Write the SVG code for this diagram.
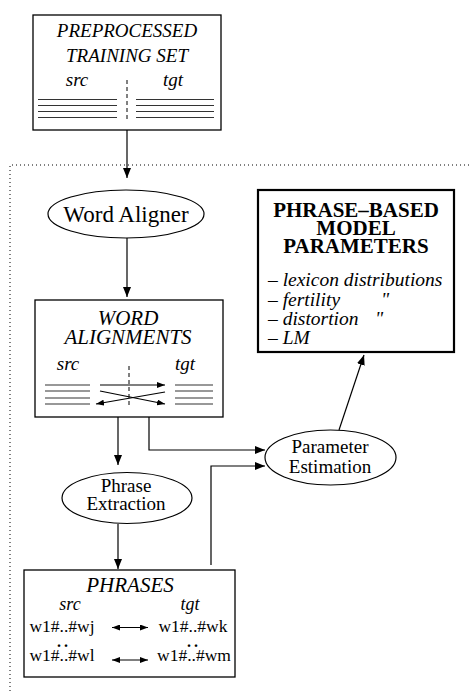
<svg xmlns="http://www.w3.org/2000/svg" width="469" height="691" viewBox="0 0 469 691">
<style>
.box{fill:#fff;stroke:#000;stroke-width:1.3}
.bold{fill:#fff;stroke:#000;stroke-width:2.2}
.ell{fill:#fff;stroke:#000;stroke-width:1.2}
.ln{stroke:#000;stroke-width:1.2;fill:none}
.rule{stroke:#333;stroke-width:1.2}
.dash{stroke:#000;stroke-width:1;stroke-dasharray:4,3}
text{font-family:'Liberation Serif','Times New Roman',serif;fill:#000}
.it{font-style:italic}
.bf{font-weight:bold}
</style>
<defs>
<marker id="ah" viewBox="0 0 10 8" refX="10" refY="4" markerWidth="10" markerHeight="8" markerUnits="userSpaceOnUse" orient="auto-start-reverse">
<path d="M0,0 L10,4 L0,8 z" fill="#000"/>
</marker>
<marker id="sah" viewBox="0 0 8 6" refX="8" refY="3" markerWidth="8" markerHeight="6" markerUnits="userSpaceOnUse" orient="auto-start-reverse">
<path d="M0,0 L8,3 L0,6 z" fill="#000"/>
</marker>
</defs>
<rect width="469" height="691" fill="#fff"/>
<path d="M10,691 V165 H469" fill="none" stroke="#000" stroke-width="1" stroke-dasharray="1,3"/>

<g id="connectors">
<line class="ln" x1="127" y1="130" x2="127" y2="178" marker-end="url(#ah)"/>
<line class="ln" x1="127" y1="238" x2="127" y2="297" marker-end="url(#ah)"/>
<line class="ln" x1="118" y1="417" x2="118" y2="465" marker-end="url(#ah)"/>
<line class="ln" x1="118" y1="524" x2="118" y2="569" marker-end="url(#ah)"/>
<polyline class="ln" points="149,417 149,450 265,450" marker-end="url(#ah)"/>
<polyline class="ln" points="211,565 211,466 265,466" marker-end="url(#ah)"/>
<line class="ln" x1="339" y1="430" x2="364" y2="355" marker-end="url(#ah)"/>
</g>

<g id="training-set">
<rect class="box" x="33" y="15" width="188" height="115"/>
<text class="it" x="127" y="37" font-size="19" text-anchor="middle">PREPROCESSED</text>
<text class="it" x="127" y="62" font-size="19" text-anchor="middle">TRAINING SET</text>
<text class="it" x="77" y="86" font-size="19" text-anchor="middle">src</text>
<text class="it" x="173" y="86" font-size="19" text-anchor="middle">tgt</text>
<line class="dash" x1="127" y1="80" x2="127" y2="122"/>
<g class="rule">
<line x1="38" y1="99.5" x2="117" y2="99.5"/><line x1="38" y1="105.5" x2="117" y2="105.5"/>
<line x1="38" y1="111.5" x2="117" y2="111.5"/><line x1="38" y1="117.5" x2="117" y2="117.5"/>
<line x1="136" y1="99.5" x2="214" y2="99.5"/><line x1="136" y1="105.5" x2="214" y2="105.5"/>
<line x1="136" y1="111.5" x2="214" y2="111.5"/><line x1="136" y1="117.5" x2="214" y2="117.5"/>
</g>
</g>

<g id="word-aligner">
<ellipse class="ell" cx="126" cy="214" rx="78" ry="24"/>
<text x="126" y="222" font-size="23" text-anchor="middle">Word Aligner</text>
</g>

<g id="model-parameters">
<rect class="bold" x="258" y="190" width="196" height="162"/>
<text class="bf" x="356" y="217" font-size="21" text-anchor="middle">PHRASE–BASED</text>
<text class="bf" x="356" y="235" font-size="21" text-anchor="middle">MODEL</text>
<text class="bf" x="356" y="253" font-size="21" text-anchor="middle">PARAMETERS</text>
<text x="268" y="286" font-size="19.5">– <tspan class="it">lexicon distributions</tspan></text>
<text x="268" y="306" font-size="19.5">– <tspan class="it">fertility</tspan></text>
<text class="it" x="381" y="306" font-size="19.5">"</text>
<text x="268" y="325" font-size="19.5">– <tspan class="it">distortion</tspan></text>
<text class="it" x="375" y="325" font-size="19.5">"</text>
<text x="268" y="344" font-size="19.5">– <tspan class="it">LM</tspan></text>
</g>

<g id="word-alignments">
<rect class="box" x="35" y="300" width="188" height="117"/>
<text class="it" x="128" y="325" font-size="21" text-anchor="middle">WORD</text>
<text class="it" x="128" y="344" font-size="21" text-anchor="middle">ALIGNMENTS</text>
<text class="it" x="68" y="370" font-size="19" text-anchor="middle">src</text>
<text class="it" x="185" y="370" font-size="19" text-anchor="middle">tgt</text>
<line class="dash" x1="129" y1="366" x2="129" y2="408"/>
<g class="rule">
<line x1="45" y1="385" x2="90" y2="385"/><line x1="45" y1="391" x2="90" y2="391"/>
<line x1="45" y1="398" x2="90" y2="398"/><line x1="45" y1="404" x2="90" y2="404"/>
<line x1="175" y1="385" x2="213" y2="385"/><line x1="175" y1="391" x2="213" y2="391"/>
<line x1="175" y1="398" x2="213" y2="398"/><line x1="175" y1="404" x2="213" y2="404"/>
</g>
<line class="ln" x1="100" y1="385" x2="165" y2="385" marker-end="url(#sah)"/>
<line class="ln" x1="100" y1="391" x2="165" y2="404" marker-end="url(#sah)"/>
<line class="ln" x1="165" y1="392" x2="96" y2="404" marker-end="url(#sah)"/>
</g>

<g id="phrase-extraction">
<ellipse class="ell" cx="127" cy="498" rx="65" ry="25.5"/>
<text x="126" y="492" font-size="19" text-anchor="middle">Phrase</text>
<text x="126" y="510" font-size="19" text-anchor="middle">Extraction</text>
</g>

<g id="parameter-estimation">
<ellipse class="ell" cx="330.5" cy="457.5" rx="65.5" ry="27.5"/>
<text x="330" y="453" font-size="19" text-anchor="middle">Parameter</text>
<text x="330" y="473" font-size="19" text-anchor="middle">Estimation</text>
</g>

<g id="phrases">
<rect class="box" x="24" y="570" width="211" height="107"/>
<text class="it" x="130" y="592" font-size="21" text-anchor="middle">PHRASES</text>
<text class="it" x="70" y="610" font-size="18" text-anchor="middle">src</text>
<text class="it" x="190" y="610" font-size="18" text-anchor="middle">tgt</text>
<text x="62" y="632" font-size="17.5" text-anchor="middle">w1#..#wj</text>
<text x="193" y="632" font-size="17.5" text-anchor="middle">w1#..#wk</text>
<text class="bf" x="64" y="646.5" font-size="16" text-anchor="middle" letter-spacing="3">..</text>
<text class="bf" x="194" y="646.5" font-size="16" text-anchor="middle" letter-spacing="3">..</text>
<text x="62" y="661" font-size="17.5" text-anchor="middle">w1#..#wl</text>
<text x="194" y="661" font-size="17.5" text-anchor="middle">w1#..#wm</text>
<line class="ln" x1="112" y1="627.5" x2="148" y2="627.5" marker-start="url(#sah)" marker-end="url(#sah)"/>
<line class="ln" x1="112" y1="660" x2="148" y2="660" marker-start="url(#sah)" marker-end="url(#sah)"/>
</g>
</svg>
